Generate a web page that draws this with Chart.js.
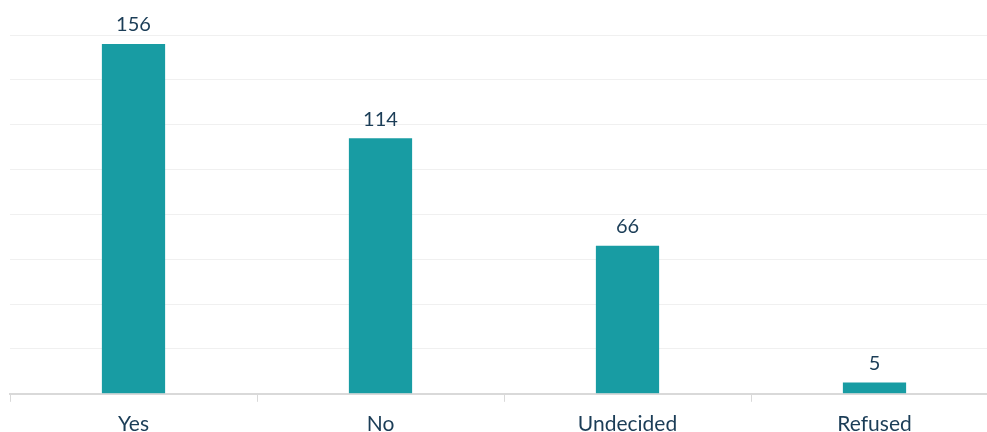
<!DOCTYPE html>
<html>
<head>
<meta charset="utf-8">
<script src="https://cdn.jsdelivr.net/npm/chart.js@4/dist/chart.umd.min.js"></script>
<style>
  html, body { margin: 0; padding: 0; background: #fff; overflow: hidden; }
  #wrap { width: 998px; height: 447px; }
</style>
</head>
<body>
<div id="wrap"><canvas id="chart"></canvas></div>
<script>
// chart data
const categories = ["Yes", "No", "Undecided", "Refused"];
const responses = [156, 114, 66, 5];

const textColor = "#1b3d57";
const barColor = "#189ca3";

// draws the value above each bar
const valueLabels = {
  id: "valueLabels",
  afterDatasetsDraw(chart) {
    const ctx = chart.ctx;
    const meta = chart.getDatasetMeta(0);
    ctx.save();
    ctx.font = "20px Lato";
    ctx.fillStyle = textColor;
    ctx.textAlign = "center";
    ctx.textBaseline = "bottom";
    meta.data.forEach((bar, i) => {
      ctx.fillText(String(responses[i]), bar.x, bar.y - 9);
    });
    ctx.restore();
  },
};

new Chart(document.getElementById("chart"), {
  type: "bar",
  data: {
    labels: categories,
    datasets: [
      {
        data: responses,
        backgroundColor: barColor,
        barPercentage: 0.32,
        categoryPercentage: 0.8,
      },
    ],
  },
  options: {
    responsive: true,
    maintainAspectRatio: false,
    animation: false,
    layout: { padding: { left: 10, top: 35, right: 0, bottom: 0 } },
    plugins: {
      legend: { display: false },
      tooltip: { enabled: false },
    },
    scales: {
      x: {
        grid: {
          offset: true,
          drawOnChartArea: false,
          color: "#d9d9d9",
          tickLength: 8,
        },
        border: { color: "#d9d9d9", width: 2 },
        ticks: {
          color: textColor,
          font: { family: "Lato", size: 21 },
          padding: 10,
        },
      },
      y: {
        min: 0,
        max: 160,
        ticks: { display: false, stepSize: 20 },
        grid: { color: "#f0f0f0", drawTicks: false },
        border: { display: false },
      },
    },
  },
  plugins: [valueLabels],
});
</script>
</body>
</html>
